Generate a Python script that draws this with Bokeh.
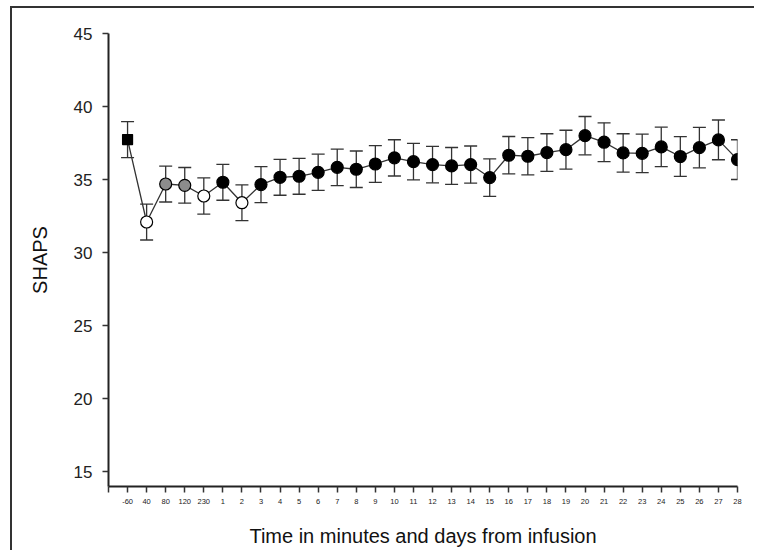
from bokeh.plotting import figure
from bokeh.models import ColumnDataSource, Whisker, TeeHead, FixedTicker
from bokeh.embed import file_html
from bokeh.resources import INLINE

# ---- data ----
time_labels = ["-60", "40", "80", "120", "230"] + [str(d) for d in range(1, 29)]
shaps = [37.74, 32.10, 34.70, 34.61, 33.88, 34.82, 33.42, 34.66, 35.16, 35.23,
         35.50, 35.84, 35.71, 36.07, 36.49, 36.23, 36.03, 35.94, 36.03, 35.14,
         36.67, 36.60, 36.85, 37.05, 38.01, 37.56, 36.83, 36.80, 37.24, 36.58,
         37.19, 37.72, 36.37]
sem = [1.23, 1.23, 1.23, 1.22, 1.24, 1.23, 1.22, 1.23, 1.23, 1.23,
       1.24, 1.25, 1.25, 1.26, 1.24, 1.25, 1.25, 1.26, 1.27, 1.28,
       1.28, 1.28, 1.29, 1.33, 1.31, 1.33, 1.31, 1.32, 1.35, 1.36,
       1.38, 1.36, 1.36]
kind = ["square", "open", "grey", "grey", "open", "filled", "open"] + ["filled"] * 26
y_ticks = [15, 20, 25, 30, 35, 40, 45]

FONT = "Liberation Sans"
AX = "#333333"

xpos = list(range(1, len(time_labels) + 1))
fill_map = {"square": "black", "open": "white", "grey": "#8c8c8c", "filled": "black"}
marker_map = {"square": "square", "open": "circle", "grey": "circle", "filled": "circle"}
size_map = {"square": 10, "open": 12, "grey": 12, "filled": 12}

src = ColumnDataSource(dict(
    x=xpos,
    y=shaps,
    upper=[v + e for v, e in zip(shaps, sem)],
    lower=[v - e for v, e in zip(shaps, sem)],
    fill=[fill_map[k] for k in kind],
    marker=[marker_map[k] for k in kind],
    size=[size_map[k] for k in kind],
))

p = figure(width=744, height=544, output_backend="svg", toolbar_location=None,
           x_range=(0, len(time_labels)), y_range=(14, 45),
           min_border_left=96, min_border_right=19, min_border_top=25,
           min_border_bottom=66)
p.styles = {"border-top": "2px solid #333", "border-left": "2px solid #333",
            "margin-left": "10px", "margin-top": "6px"}
p.outline_line_color = None
p.grid.visible = False
p.background_fill_color = "white"

p.line("x", "y", source=src, line_color=AX, line_width=1.3)

w = Whisker(base="x", upper="upper", lower="lower", source=src,
            line_color=AX, line_width=1.3,
            upper_head=TeeHead(size=13, line_color=AX, line_width=1.3),
            lower_head=TeeHead(size=13, line_color=AX, line_width=1.3))
p.add_layout(w)

p.scatter("x", "y", source=src, marker="marker", size="size",
          fill_color="fill", line_color="black", line_width=1.2)

# x axis
p.xaxis.ticker = FixedTicker(ticks=list(range(0, len(time_labels) + 1)))
overrides = {0: ""}
for i, lab in enumerate(time_labels):
    overrides[i + 1] = lab
p.xaxis.major_label_overrides = overrides
p.xaxis.axis_label = "Time in minutes and days from infusion"
p.xaxis.axis_label_text_font = FONT
p.xaxis.axis_label_text_font_style = "normal"
p.xaxis.axis_label_text_font_size = "20px"
p.xaxis.axis_label_text_color = "#111111"
p.xaxis.axis_label_standoff = 18
p.xaxis.major_label_text_font = FONT
p.xaxis.major_label_text_font_size = "7.5px"
p.xaxis.major_label_text_color = "#222222"
p.xaxis.major_label_standoff = 6

# y axis
p.yaxis.ticker = FixedTicker(ticks=y_ticks)
p.yaxis.axis_label = "SHAPS"
p.yaxis.axis_label_text_font = FONT
p.yaxis.axis_label_text_font_style = "normal"
p.yaxis.axis_label_text_font_size = "20px"
p.yaxis.axis_label_text_color = "#111111"
p.yaxis.axis_label_standoff = 20
p.yaxis.major_label_text_font = FONT
p.yaxis.major_label_text_font_size = "17px"
p.yaxis.major_label_text_color = "#222222"
p.yaxis.major_label_standoff = 10

for ax in (p.xaxis, p.yaxis):
    ax.axis_line_color = "#222222"
    ax.axis_line_width = 2
    ax.major_tick_line_color = AX
    ax.major_tick_line_width = 1.5
    ax.major_tick_in = 0
    ax.major_tick_out = 6
    ax.minor_tick_line_color = None

open("out.html", "w").write(file_html(p, INLINE))
